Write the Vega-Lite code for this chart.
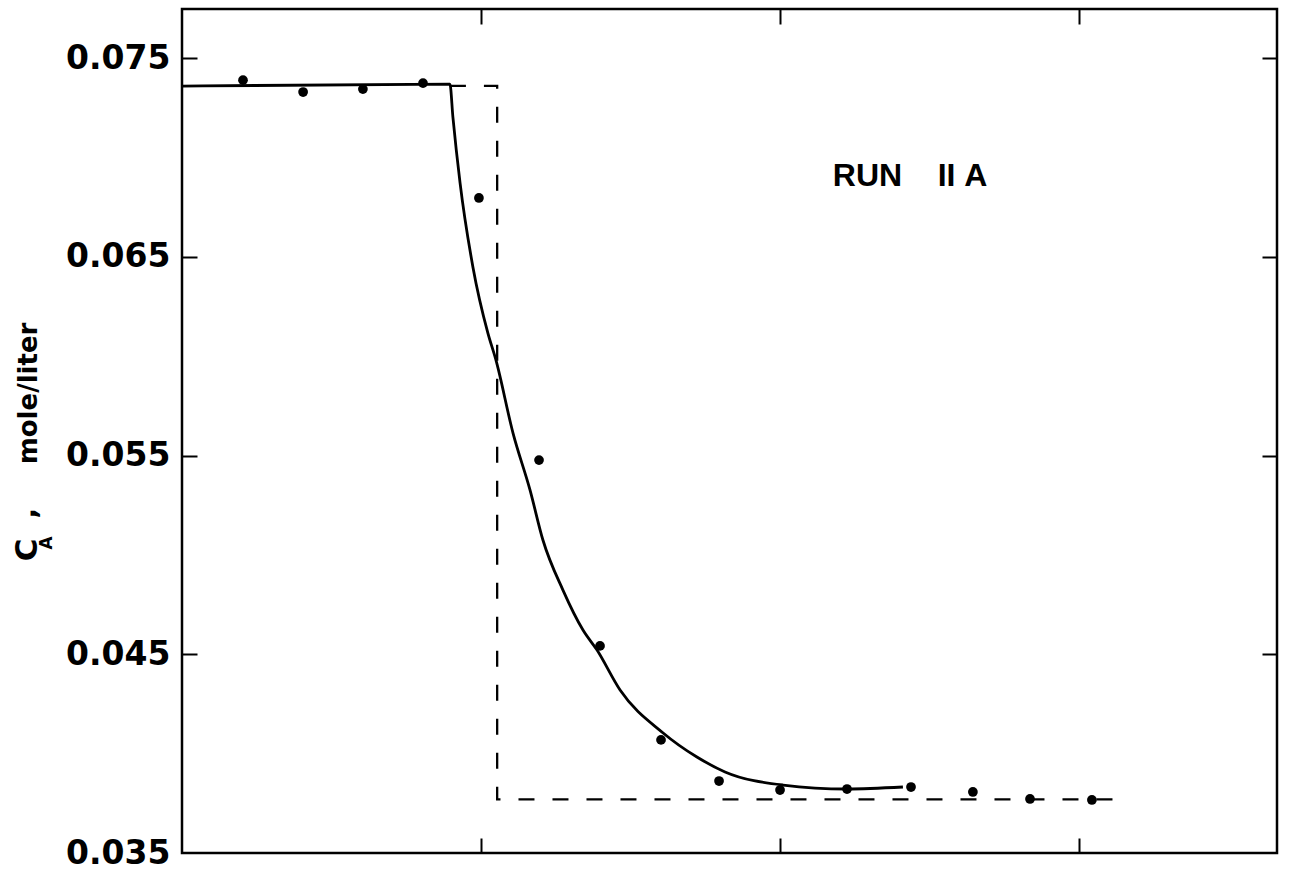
{
  "$schema": "https://vega.github.io/schema/vega-lite/v6.json",
  "autosize": "none",
  "width": 1095,
  "height": 844,
  "padding": {"left": 182, "top": 9, "right": 12, "bottom": 26},
  "background": "white",
  "config": {
    "view": {"stroke": "black", "strokeWidth": 2.5},
    "axis": {
      "domain": false,
      "tickColor": "black",
      "tickWidth": 2,
      "tickSize": 15,
      "grid": false,
      "labelColor": "black",
      "titleColor": "black"
    }
  },
  "datasets": {
    "measured": [
      {"t": 0.204, "ca": 0.07389},
      {"t": 0.405, "ca": 0.07329},
      {"t": 0.605, "ca": 0.07344},
      {"t": 0.806, "ca": 0.07374},
      {"t": 0.993, "ca": 0.06796},
      {"t": 1.194, "ca": 0.05477},
      {"t": 1.398, "ca": 0.04542},
      {"t": 1.602, "ca": 0.04069},
      {"t": 1.796, "ca": 0.03862},
      {"t": 2.000, "ca": 0.03817},
      {"t": 2.224, "ca": 0.03822},
      {"t": 2.438, "ca": 0.03832},
      {"t": 2.645, "ca": 0.03807},
      {"t": 2.836, "ca": 0.03772},
      {"t": 3.043, "ca": 0.03767}
    ],
    "response": [
      {"t": 0.0, "ca": 0.07359},
      {"t": 0.896, "ca": 0.07369},
      {"t": 0.906, "ca": 0.07203},
      {"t": 0.930, "ca": 0.06871},
      {"t": 0.973, "ca": 0.06448},
      {"t": 1.023, "ca": 0.06116},
      {"t": 1.050, "ca": 0.05980},
      {"t": 1.107, "ca": 0.05613},
      {"t": 1.164, "ca": 0.05326},
      {"t": 1.207, "ca": 0.05075},
      {"t": 1.274, "ca": 0.04823},
      {"t": 1.341, "ca": 0.04622},
      {"t": 1.388, "ca": 0.04521},
      {"t": 1.465, "ca": 0.04320},
      {"t": 1.609, "ca": 0.04104},
      {"t": 1.722, "ca": 0.03983},
      {"t": 1.816, "ca": 0.03908},
      {"t": 2.010, "ca": 0.03842},
      {"t": 2.224, "ca": 0.03822},
      {"t": 2.411, "ca": 0.03832}
    ],
    "ideal": [
      {"i": 0, "t": 0.896, "ca": 0.0736},
      {"i": 1, "t": 1.054, "ca": 0.0736},
      {"i": 2, "t": 1.054, "ca": 0.0377},
      {"i": 3, "t": 3.154, "ca": 0.0377}
    ],
    "labels": [
      {"t": 2.435, "ca": 0.06906, "text": "RUN\u00a0\u00a0\u00a0\u00a0II\u00a0A"}
    ],
    "symbol": [
      {"t": -0.515, "ca": 0.05025, "text": "C"}
    ],
    "subscript": [
      {"t": -0.452, "ca": 0.0506, "text": "A"}
    ],
    "separator": [
      {"t": -0.515, "ca": 0.0521, "text": ","}
    ]
  },
  "resolve": {"axis": {"x": "independent", "y": "independent"}},
  "layer": [
    {
      "data": {"name": "response"},
      "mark": {"type": "line", "color": "black", "strokeWidth": 2.8, "interpolate": "monotone"},
      "encoding": {
        "x": {
          "field": "t", "type": "quantitative",
          "scale": {"domain": [0, 3.662], "nice": false, "zero": false},
          "axis": {"orient": "top", "offset": -844, "values": [1, 2, 3], "labels": false, "title": null}
        },
        "y": {
          "field": "ca", "type": "quantitative",
          "scale": {"domain": [0.035, 0.07747], "nice": false, "zero": false},
          "axis": {
            "orient": "left",
            "ticks": false,
            "values": [0.035, 0.045, 0.055, 0.065, 0.075],
            "format": ".3f",
            "labelFont": "DejaVu Sans",
            "labelFontWeight": "bold",
            "labelFontSize": 33,
            "labelPadding": 12,
            "title": "mole/liter",
            "titleFont": "DejaVu Sans",
            "titleFontWeight": "bold",
            "titleFontSize": 26,
            "titleX": -141,
            "titleY": 384,
            "titleAlign": "center"
          }
        }
      }
    },
    {
      "data": {"name": "ideal"},
      "mark": {"type": "line", "color": "black", "strokeWidth": 2.3, "strokeDash": [16, 18]},
      "encoding": {
        "x": {"field": "t", "type": "quantitative",
          "axis": {"orient": "bottom", "offset": -844, "values": [1, 2, 3], "labels": false, "title": null}},
        "y": {"field": "ca", "type": "quantitative",
          "axis": {"orient": "right", "offset": -1095, "values": [0.045, 0.055, 0.065, 0.075], "labels": false, "title": null}},
        "order": {"field": "i", "type": "quantitative"}
      }
    },
    {
      "data": {"name": "measured"},
      "mark": {"type": "point", "filled": true, "color": "black", "size": 95, "opacity": 1},
      "encoding": {
        "x": {"field": "t", "type": "quantitative", "axis": null},
        "y": {"field": "ca", "type": "quantitative",
          "axis": {"orient": "left", "offset": -1095, "values": [0.045, 0.055, 0.065, 0.075], "labels": false, "title": null}}
      }
    },
    {
      "data": {"name": "labels"},
      "mark": {"type": "text", "font": "Liberation Sans", "fontWeight": "bold", "fontSize": 32, "color": "black", "align": "center", "baseline": "middle"},
      "encoding": {
        "x": {"field": "t", "type": "quantitative", "axis": null},
        "y": {"field": "ca", "type": "quantitative", "axis": null},
        "text": {"field": "text"}
      }
    },
    {
      "data": {"name": "symbol"},
      "mark": {"type": "text", "font": "DejaVu Sans", "fontWeight": "bold", "fontSize": 31, "color": "black", "align": "center", "baseline": "middle", "angle": 270},
      "encoding": {
        "x": {"field": "t", "type": "quantitative", "axis": null},
        "y": {"field": "ca", "type": "quantitative", "axis": null},
        "text": {"field": "text"}
      }
    },
    {
      "data": {"name": "subscript"},
      "mark": {"type": "text", "font": "DejaVu Sans", "fontWeight": "bold", "fontSize": 17, "color": "black", "align": "center", "baseline": "middle", "angle": 270},
      "encoding": {
        "x": {"field": "t", "type": "quantitative", "axis": null},
        "y": {"field": "ca", "type": "quantitative", "axis": null},
        "text": {"field": "text"}
      }
    },
    {
      "data": {"name": "separator"},
      "mark": {"type": "text", "font": "DejaVu Sans", "fontWeight": "bold", "fontSize": 28, "color": "black", "align": "center", "baseline": "middle", "angle": 270},
      "encoding": {
        "x": {"field": "t", "type": "quantitative", "axis": null},
        "y": {"field": "ca", "type": "quantitative", "axis": null},
        "text": {"field": "text"}
      }
    }
  ]
}
